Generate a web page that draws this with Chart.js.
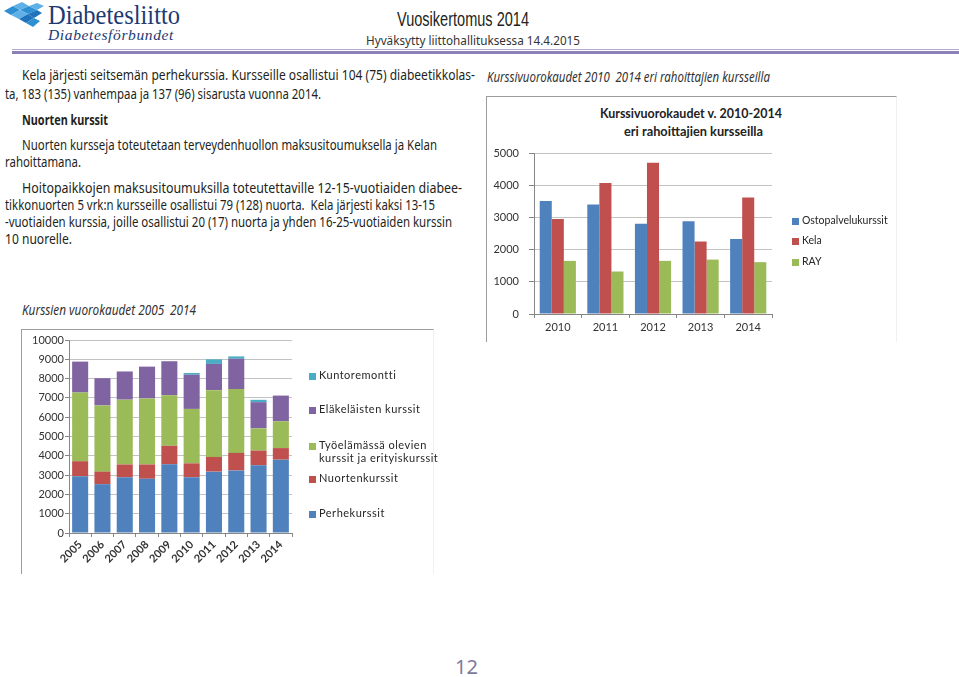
<!DOCTYPE html>
<html>
<head>
<meta charset="utf-8">
<script src="https://cdn.jsdelivr.net/npm/chart.js@4.4.1/dist/chart.umd.min.js"></script>
<style>
  body { margin:0; width:959px; height:677px; position:relative; overflow:hidden; background:#fff;
         font-family:"Noto Sans", sans-serif; color:#231f20; }
  .t { position:absolute; white-space:nowrap; line-height:1; transform-origin:0 0; }
  .body { font-size:13.5px; }
  .frame { position:absolute; border-top:1px solid #9c9c9c; border-left:1px solid #9c9c9c; border-right:1px solid #f0f0f0; box-sizing:border-box; }
  canvas { position:absolute; }
  .lg { position:absolute; font-family:Lato, sans-serif; color:#262626; }
  .lg i { position:absolute; display:block; }
  .lg span { position:absolute; white-space:pre; line-height:1.15; }
</style>
</head>
<body>

<!-- header -->
<svg style="position:absolute;left:4px;top:2px" width="40" height="26" viewBox="0 0 40 26">
  <polygon points="0,9 9,4 16,8 7,13" fill="#2e8fd3"/>
  <polygon points="9,4 18,0 25,4 16,8" fill="#5fb0e6"/>
  <polygon points="16,8 25,4 33,8 24,12" fill="#2e8fd3"/>
  <polygon points="25,4 33,1 40,4 33,8" fill="#5fb0e6"/>
  <polygon points="7,13 16,8 24,12 15,17" fill="#5fb0e6"/>
  <polygon points="24,12 33,8 38,11 30,16" fill="#1f73bb"/>
  <polygon points="15,17 24,12 30,16 22,21" fill="#1f73bb"/>
  <polygon points="22,21 30,16 36,19 29,25" fill="#2e8fd3"/>
</svg>
<div class="t" data-w="132" style="left:48px;top:2px;font-family:'Liberation Serif',serif;font-size:27px;color:#1d3a72">Diabetesliitto</div>
<div class="t" data-w="126" style="left:48px;top:28px;font-family:'Liberation Serif',serif;font-style:italic;font-size:15px;color:#1d3a72;letter-spacing:0.6px">Diabetesförbundet</div>
<div class="t" data-w="132" style="left:397px;top:9px;font-family:'Liberation Sans Narrow','Liberation Sans',sans-serif;font-size:20px;color:#231f20">Vuosikertomus 2014</div>
<div class="t" data-w="214" style="left:366px;top:35px;font-size:12.5px;color:#333">Hyväksytty liittohallituksessa 14.4.2015</div>
<div style="position:absolute;left:12px;right:0;top:49px;height:1px;background:#b3aacb"></div>
<div style="position:absolute;left:12px;right:0;top:51px;height:3px;background:#8c80b8"></div>

<!-- body text -->
<div class="t body" data-w="453" style="left:22px;top:69px">Kela järjesti seitsemän perhekurssia. Kursseille osallistui 104 (75) diabeetikkolas-</div>
<div class="t body" data-w="316" style="left:5px;top:87.5px">ta, 183 (135) vanhempaa ja 137 (96) sisarusta vuonna 2014.</div>
<div class="t body" data-w="86" style="left:22px;top:113.5px;font-weight:bold">Nuorten kurssit</div>
<div class="t body" data-w="415" style="left:22px;top:139px">Nuorten kursseja toteutetaan terveydenhuollon maksusitoumuksella ja Kelan</div>
<div class="t body" data-w="76" style="left:5px;top:156px">rahoittamana.</div>
<div class="t body" data-w="440" style="left:22px;top:182px">Hoitopaikkojen maksusitoumuksilla toteutettaville 12-15-vuotiaiden diabee-</div>
<div class="t body" data-w="430" style="left:5px;top:199px">tikkonuorten 5 vrk:n kursseille osallistui 79 (128) nuorta.&nbsp; Kela järjesti kaksi 13-15</div>
<div class="t body" data-w="447" style="left:5px;top:216px">-vuotiaiden kurssia, joille osallistui 20 (17) nuorta ja yhden 16-25-vuotiaiden kurssin</div>
<div class="t body" data-w="67" style="left:5px;top:233px">10 nuorelle.</div>

<div class="t body" data-w="283" style="left:487px;top:71px;font-style:italic;color:#333">Kurssivuorokaudet 2010&ensp;2014 eri rahoittajien kursseilla</div>
<div class="t body" data-w="174" style="left:22px;top:304px;font-style:italic;color:#333">Kurssien vuorokaudet 2005&ensp;2014</div>

<!-- chart 1 -->
<div class="frame" style="left:486px;top:96px;width:411px;height:246px"></div>
<div class="t" data-w="182" style="left:600px;top:106px;font-family:Lato,sans-serif;font-weight:bold;font-size:14px;color:#222">Kurssivuorokaudet v. 2010-2014</div>
<div class="t" data-w="139" style="left:624px;top:124px;font-family:Lato,sans-serif;font-weight:bold;font-size:14px;color:#222">eri rahoittajien kursseilla</div>
<canvas id="c1" width="411" height="245" style="left:486px;top:96px"></canvas>
<div id="lg1" class="lg" style="left:792px;top:0"></div>

<!-- chart 2 -->
<div class="frame" style="left:21px;top:329px;width:413px;height:245px"></div>
<canvas id="c2" width="413" height="244" style="left:21px;top:329px"></canvas>
<div id="lg2" class="lg" style="left:309px;top:0"></div>

<div class="t" style="left:455px;top:657px;font-size:20px;color:#7d7a9c">12</div>

<script>
// chart 1: Kurssivuorokaudet 2010-2014 eri rahoittajien kursseilla
const years1 = ['2010', '2011', '2012', '2013', '2014'];
const ostopalvelu = [3510, 3400, 2800, 2880, 2330];
const kela = [2950, 4070, 4700, 2250, 3620];
const ray = [1650, 1320, 1650, 1690, 1610];
const yMax1 = 5000, yStep1 = 500;

// chart 2: Kurssien vuorokaudet 2005-2014
const years2 = ['2005', '2006', '2007', '2008', '2009', '2010', '2011', '2012', '2013', '2014'];
const perhe = [2940, 2530, 2890, 2810, 3560, 2890, 3180, 3240, 3510, 3800];
const nuoret = [780, 650, 660, 740, 960, 720, 760, 910, 760, 600];
const tyo = [3560, 3430, 3360, 3420, 2620, 2820, 3460, 3310, 1150, 1390];
const elake = [1600, 1410, 1460, 1650, 1760, 1770, 1360, 1570, 1360, 1330];
const kunto = [0, 0, 0, 0, 0, 90, 240, 120, 120, 0];
const yMax2 = 10000, yStep2 = 1000;

const AXIS = '#868686', GRID = '#c3c3c3', TXT = '#333';

function axes(yMax, yStep, yWidth, xHeight, yPad, yTick, xOpts) {
  return {
    x: {
      stacked: xOpts.stacked,
      grid: { drawOnChartArea: false, tickLength: 4, color: AXIS },
      border: { color: AXIS },
      ticks: Object.assign({ padding: 3, autoSkip: false, color: TXT, font: { family: 'Lato', size: 11 } }, xOpts.ticks || {}),
      afterFit(s) { s.height = xHeight; }
    },
    y: {
      stacked: xOpts.stacked,
      min: 0, max: yMax,
      grid: { color: GRID, tickColor: AXIS, tickLength: yTick },
      border: { color: AXIS },
      ticks: { stepSize: yStep, padding: yPad, color: TXT, font: { family: 'Lato', size: 11 },
               callback: v => String(v) },
      afterFit(s) { s.width = yWidth; }
    }
  };
}

const common = {
  responsive: false, animation: false,
  plugins: { legend: { display: false }, title: { display: false }, tooltip: { enabled: false } }
};

const ch1 = new Chart(document.getElementById('c1'), {
  type: 'bar',
  data: {
    labels: years1,
    datasets: [
      { label: 'Ostopalvelukurssit', data: ostopalvelu, backgroundColor: '#4f81bd' },
      { label: 'Kela', data: kela, backgroundColor: '#c0504d' },
      { label: 'RAY', data: ray, backgroundColor: '#9bbb59' }
    ]
  },
  options: Object.assign({}, common, {
    layout: { padding: { top: 57, right: 125, left: 0, bottom: 0 } },
    datasets: { bar: { categoryPercentage: 0.76, barPercentage: 1 } },
    scales: axes(yMax1, yStep1, 48, 27, 10, 5, { stacked: false })
  })
});

const ch2 = new Chart(document.getElementById('c2'), {
  type: 'bar',
  data: {
    labels: years2,
    datasets: [
      { label: 'Perhekurssit', data: perhe, backgroundColor: '#4f81bd' },
      { label: 'Nuortenkurssit', data: nuoret, backgroundColor: '#c0504d' },
      { label: 'Työelämässä olevien\nkurssit ja erityiskurssit', data: tyo, backgroundColor: '#9bbb59' },
      { label: 'Eläkeläisten kurssit', data: elake, backgroundColor: '#8064a2' },
      { label: 'Kuntoremontti', data: kunto, backgroundColor: '#4bacc6' }
    ]
  },
  options: Object.assign({}, common, {
    layout: { padding: { top: 11, right: 142, left: 0, bottom: 0 } },
    datasets: { bar: { categoryPercentage: 0.72, barPercentage: 1 } },
    scales: axes(yMax2, yStep2, 48, 40, 1, 4, {
      stacked: true,
      ticks: { padding: 1, minRotation: 45, maxRotation: 45, font: { family: 'Lato', size: 11, weight: 'bold' } }
    })
  })
});

// html legends built from the chart datasets
function legend(id, chart, rows, box, font, spacing, order) {
  const el = document.getElementById(id);
  order.forEach((di, k) => {
    const ds = chart.data.datasets[di];
    const y = rows[k];
    const sq = document.createElement('i');
    sq.style.cssText = `left:0;top:${y - box / 2}px;width:${box}px;height:${box}px;background:${ds.backgroundColor}`;
    const tx = document.createElement('span');
    tx.textContent = ds.label;
    tx.style.cssText = `left:${box + 3}px;top:${y - font * 0.62}px;font-size:${font}px;letter-spacing:${spacing}px`;
    el.appendChild(sq); el.appendChild(tx);
  });
}
legend('lg1', ch1, [221, 241, 262], 7, 10.5, 0, [0, 1, 2]);
legend('lg2', ch2, [376, 410, 446, 479, 514], 7, 11, 0.5, [4, 3, 2, 1, 0]);

function fit() {
  document.querySelectorAll('[data-w]').forEach(el => {
    el.style.transform = 'none';
    const w = el.getBoundingClientRect().width;
    el.style.transform = `scaleX(${(+el.dataset.w / w).toFixed(4)})`;
  });
}
fit();
if (document.fonts) document.fonts.ready.then(fit);
</script>
</body>
</html>
